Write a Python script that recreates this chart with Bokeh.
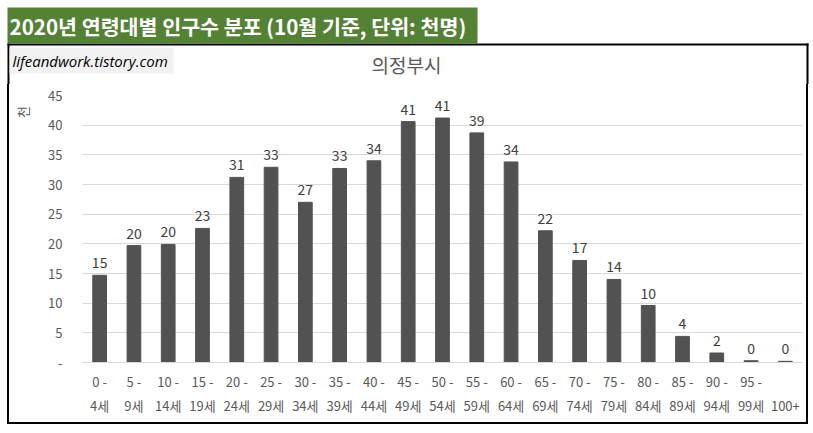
import math
from bokeh.plotting import figure
from bokeh.models import (FactorRange, Range1d, Label, BoxAnnotation, FixedTicker,
                          ColumnDataSource, Div)
from bokeh.layouts import column, row
from bokeh.embed import file_html
from bokeh.resources import INLINE
from bokeh.core.properties import value

# ---- data ----
age_from = ["0 -", "5 -", "10 -", "15 -", "20 -", "25 -", "30 -", "35 -", "40 -", "45 -",
            "50 -", "55 -", "60 -", "65 -", "70 -", "75 -", "80 -", "85 -", "90 -", "95 -", ""]
age_to = ["4세", "9세", "14세", "19세", "24세", "29세", "34세", "39세", "44세", "49세",
          "54세", "59세", "64세", "69세", "74세", "79세", "84세", "89세", "94세", "99세", "100+"]
population_thousands = [14.7, 19.7, 19.9, 22.6, 31.2, 32.9, 27.0, 32.7, 34.0, 40.6,
                        41.2, 38.7, 33.8, 22.2, 17.2, 14.0, 9.6, 4.4, 1.6, 0.3, 0.2]
y_ticks = [0, 5, 10, 15, 20, 25, 30, 35, 40, 45]
header_text = "2020년 연령대별 인구수 분포 (10월 기준, 단위: 천명)"
chart_title = "의정부시"
watermark = "lifeandwork.tistory.com"
unit_label = "천"

categories = [f"{a}\n{b}" for a, b in zip(age_from, age_to)]
labels = [f"{v:.0f}" for v in population_thousands]

KR = "Noto Sans CJK KR"
GRAY = "#595959"
W = 810          # overall width
X0 = 7           # left edge of the chart box
X1 = 808         # right edge of the chart box
B = 2            # border thickness
HEAD_H = 84
MAIN_H = 338
UNIT_W = 25


def blank_fig(width, height):
    f = figure(width=width, height=height, x_range=Range1d(0, width),
               y_range=Range1d(height, 0), output_backend="svg", toolbar_location=None,
               x_axis_type=None, y_axis_type=None, min_border=0, min_border_left=0,
               min_border_right=0, min_border_top=0, min_border_bottom=0)
    f.grid.visible = False
    f.outline_line_color = None
    return f


# ---- header (green title bar, top of the chart box, watermark, chart title) ----
h = blank_fig(W, HEAD_H)
h.add_layout(BoxAnnotation(left=X0, right=X1, top=43, bottom=43 + B, fill_color="black",
                           fill_alpha=1, line_color=None))
h.add_layout(BoxAnnotation(left=X0, right=X0 + B, top=43, bottom=HEAD_H, fill_color="black",
                           fill_alpha=1, line_color=None))
h.add_layout(BoxAnnotation(left=X1 - B, right=X1, top=43, bottom=HEAD_H, fill_color="black",
                           fill_alpha=1, line_color=None))
h.add_layout(BoxAnnotation(left=X0, right=477, top=7, bottom=43, fill_color="#548235",
                           fill_alpha=1, line_color=None))
h.add_layout(Label(x=9, y=25, text=header_text, text_font=KR, text_font_size="20.6px",
                   text_font_style="bold", text_color="white",
                   text_baseline="middle", text_align="left"))
h.add_layout(BoxAnnotation(left=X0 + B, right=173, top=47, bottom=73, fill_color="#f2f2f2",
                           fill_alpha=1, line_color=None))
h.add_layout(Label(x=12, y=60, text=watermark, text_font="Open Sans",
                   text_font_size="15px", text_font_style="italic", text_color="black",
                   text_baseline="middle", text_align="left"))
h.add_layout(Label(x=406, y=64, text=chart_title, text_font=KR, text_font_size="19px",
                   text_color=GRAY, text_baseline="middle", text_align="center"))

# ---- unit label strip ----
u = blank_fig(UNIT_W, MAIN_H)
u.add_layout(Label(x=13, y=21, text=unit_label, text_font=KR, text_font_size="13px",
                   text_color=GRAY, angle=math.pi / 2,
                   text_baseline="middle", text_align="center"))

# ---- main chart ----
src = ColumnDataSource(dict(cat=categories, val=population_thousands, lab=labels))

MAIN_W = X1 - B - (X0 + B) - UNIT_W
p = figure(width=MAIN_W, height=MAIN_H, x_range=FactorRange(*categories),
           y_range=Range1d(0, 45), output_backend="svg", toolbar_location=None,
           min_border_left=82 - (X0 + B + UNIT_W), min_border_right=4,
           min_border_top=11, min_border_bottom=60)

p.vbar(x="cat", top="val", width=0.4, source=src, color="#525252")
p.text(x="cat", y="val", text="lab", source=src, text_align="center", text_baseline="bottom",
       y_offset=-7, text_font=value(KR), text_font_size="14px", text_color="#404040")

p.outline_line_color = None
p.xgrid.grid_line_color = None
p.ygrid.grid_line_color = "#d9d9d9"
p.ygrid.grid_line_width = 1

p.yaxis.ticker = FixedTicker(ticks=y_ticks)
p.yaxis.major_label_overrides = {0: "-"}
p.yaxis.axis_line_color = None
p.yaxis.major_tick_line_color = None
p.yaxis.minor_tick_line_color = None
p.yaxis.major_label_standoff = 14
p.yaxis.major_label_text_font = KR
p.yaxis.major_label_text_font_size = "13px"
p.yaxis.major_label_text_color = GRAY

p.xaxis.axis_line_color = "#d9d9d9"
p.xaxis.major_tick_line_color = None
p.xaxis.minor_tick_line_color = None
p.xaxis.major_label_standoff = 3
p.xaxis.major_label_text_font = KR
p.xaxis.major_label_text_font_size = "13px"
p.xaxis.major_label_text_color = GRAY
p.xaxis.major_label_text_line_height = 1.3

pad_left = Div(width=X0, height=MAIN_H, margin=0)
left_border = Div(width=B, height=MAIN_H, margin=0, styles={"background-color": "black"})
right_border = Div(width=B, height=MAIN_H, margin=0, styles={"background-color": "black"})
pad_bottom = Div(width=X0, height=B, margin=0)
bottom_border = Div(width=X1 - X0, height=B, margin=0, styles={"background-color": "black"})

layout = column(h,
                row(pad_left, left_border, u, p, right_border, spacing=0),
                row(pad_bottom, bottom_border, spacing=0),
                spacing=0)

open("out.html", "w").write(file_html(layout, INLINE))
